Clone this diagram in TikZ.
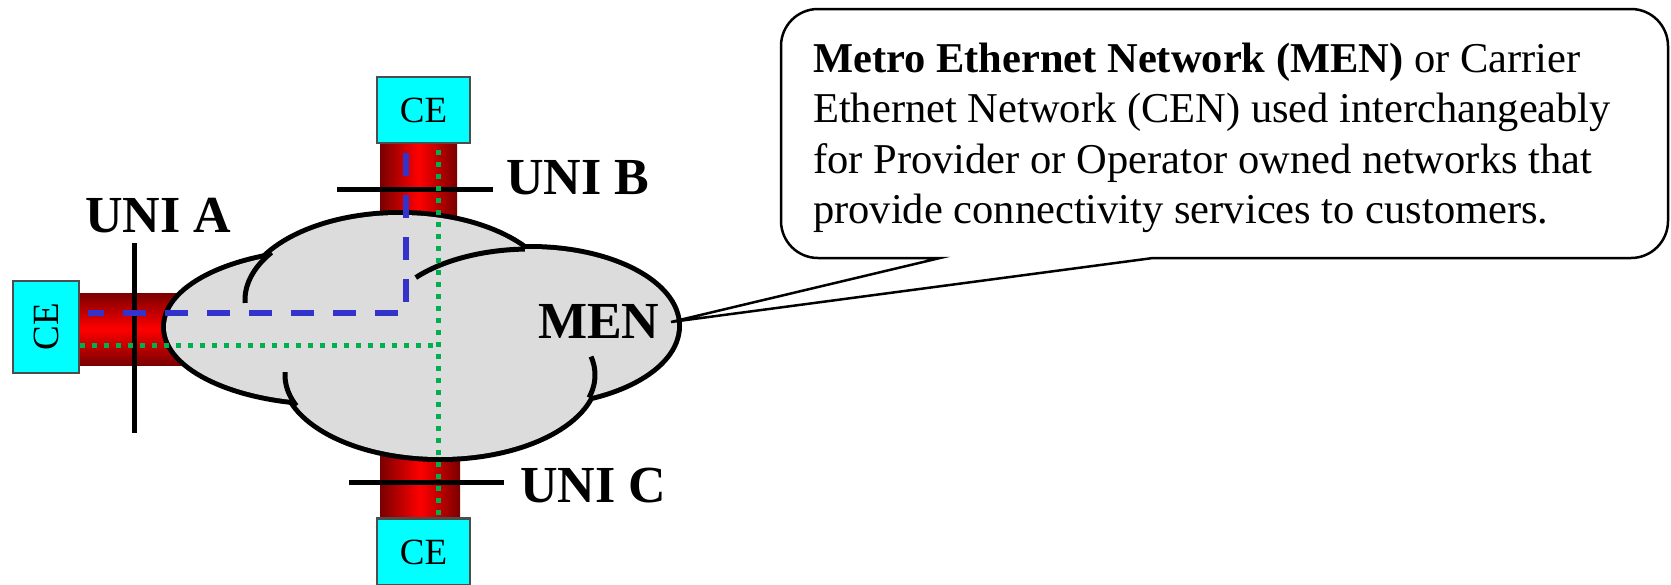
\documentclass[tikz,border=0pt]{standalone}
\usepackage{fontspec}
\setmainfont{Liberation Serif}
\definecolor{pathgreen}{HTML}{00B050}
\definecolor{pathblue}{HTML}{3333CC}
\definecolor{cloudgray}{HTML}{DCDCDC}
\definecolor{cecyan}{HTML}{00FFFF}
\definecolor{ceborder}{HTML}{4D4D4D}
\definecolor{bardark}{HTML}{7A0000}
\begin{document}
\begin{tikzpicture}[x=1pt,y=-1pt,
  cebox/.style={draw=ceborder, line width=2.5pt, fill=cecyan, inner sep=0pt,
    font=\fontsize{37}{40}\selectfont},
  vbar/.style={left color=bardark, right color=bardark, middle color=red},
  hbar/.style={top color=bardark, bottom color=bardark, middle color=red},
  unilabel/.style={font=\fontsize{52}{60}\selectfont\bfseries, inner sep=0pt, anchor=base west},
  uniline/.style={line width=5pt, black},
  bluedash/.style={line width=6pt, pathblue, dash pattern=on 23pt off 19pt},
  greendot/.style={line width=5pt, pathgreen, dash pattern=on 5pt off 7pt},
  crease/.style={line width=5pt, black},
  calltext/.style={font=\fontsize{42.5}{50.5}\selectfont, inner sep=0pt, anchor=base west},
  callout/.style={line width=2.5pt, draw=black, fill=white}
]
\useasboundingbox[fill=white] (0,0) rectangle (1671,584);

% red access links
\shade[vbar] (380,143) rectangle (457,270);
\shade[vbar] (380,400) rectangle (460,519);
\shade[hbar] (79,293) rectangle (230,365);

% cloud (MEN)
\foreach \cx/\cy/\rx/\ry in {330/327/164/75, 400/300/155/85, 530/326/147/77, 440/375/155/82}{
  \draw[line width=10pt] (\cx,\cy) ellipse [x radius=\rx pt, y radius=\ry pt];
}
\foreach \cx/\cy/\rx/\ry in {330/327/164/75, 400/300/155/85, 530/326/147/77, 440/375/155/82}{
  \fill[cloudgray] (\cx,\cy) ellipse [x radius=\rx pt, y radius=\ry pt];
}
\draw[crease] plot[domain=178:214, samples=25] ({400+155*cos(\x)}, {300+85*sin(\x)});
\draw[crease] plot[domain=219:268, samples=30] ({530+147*cos(\x)}, {326+77*sin(\x)});
\draw[crease] plot[domain=158:182, samples=20] ({440+155*cos(\x)}, {375+82*sin(\x)});
\draw[crease] plot[domain=-13:16, samples=20] ({440+155*cos(\x)}, {375+82*sin(\x)});

% UNI demarcation lines
\draw[uniline] (134,243) -- (134,433);
\draw[uniline] (337,189) -- (493,189);
\draw[uniline] (349,482) -- (504,482);

% EVC paths
\draw[bluedash] (406,153) -- (406,313) -- (88,313);
\draw[greendot] (80,345) -- (438,345);
\draw[greendot] (438,150) -- (438,515);

% CE boxes
\node[cebox, minimum width=93pt, minimum height=66pt] (ceB) at (423.5,110) {CE};
\node[cebox, minimum width=93pt, minimum height=67pt] (ceC) at (423.5,552) {CE};
\node[cebox, rotate=90, minimum width=92pt, minimum height=66pt] (ceA) at (46,327) {CE};

% labels
\node[unilabel] (uniA) at (85,232) {UNI A};
\node[unilabel] (uniB) at (506,194) {UNI B};
\node[unilabel] (uniC) at (520,502) {UNI C};

% callout
\coordinate (tip) at (671,322);
\draw[callout, rounded corners=37pt] (1300,258) -- (1668,258) -- (1668,9) -- (781,9) -- (781,258) -- (860,258)
  [sharp corners] -- (940,258) -- (tip) -- (1153,258) -- cycle;
\node[unilabel] (men) at (538,338) {MEN};

\node[calltext] (t1) at (813,72) {\textbf{Metro Ethernet Network (MEN)} or Carrier};
\node[calltext] (t2) at (813,122) {Ethernet Network (CEN) used interchangeably};
\node[calltext] (t3) at (813,173) {for Provider or Operator owned networks that};
\node[calltext] (t4) at (813,223) {provide connectivity services to customers.};
\end{tikzpicture}
\end{document}
